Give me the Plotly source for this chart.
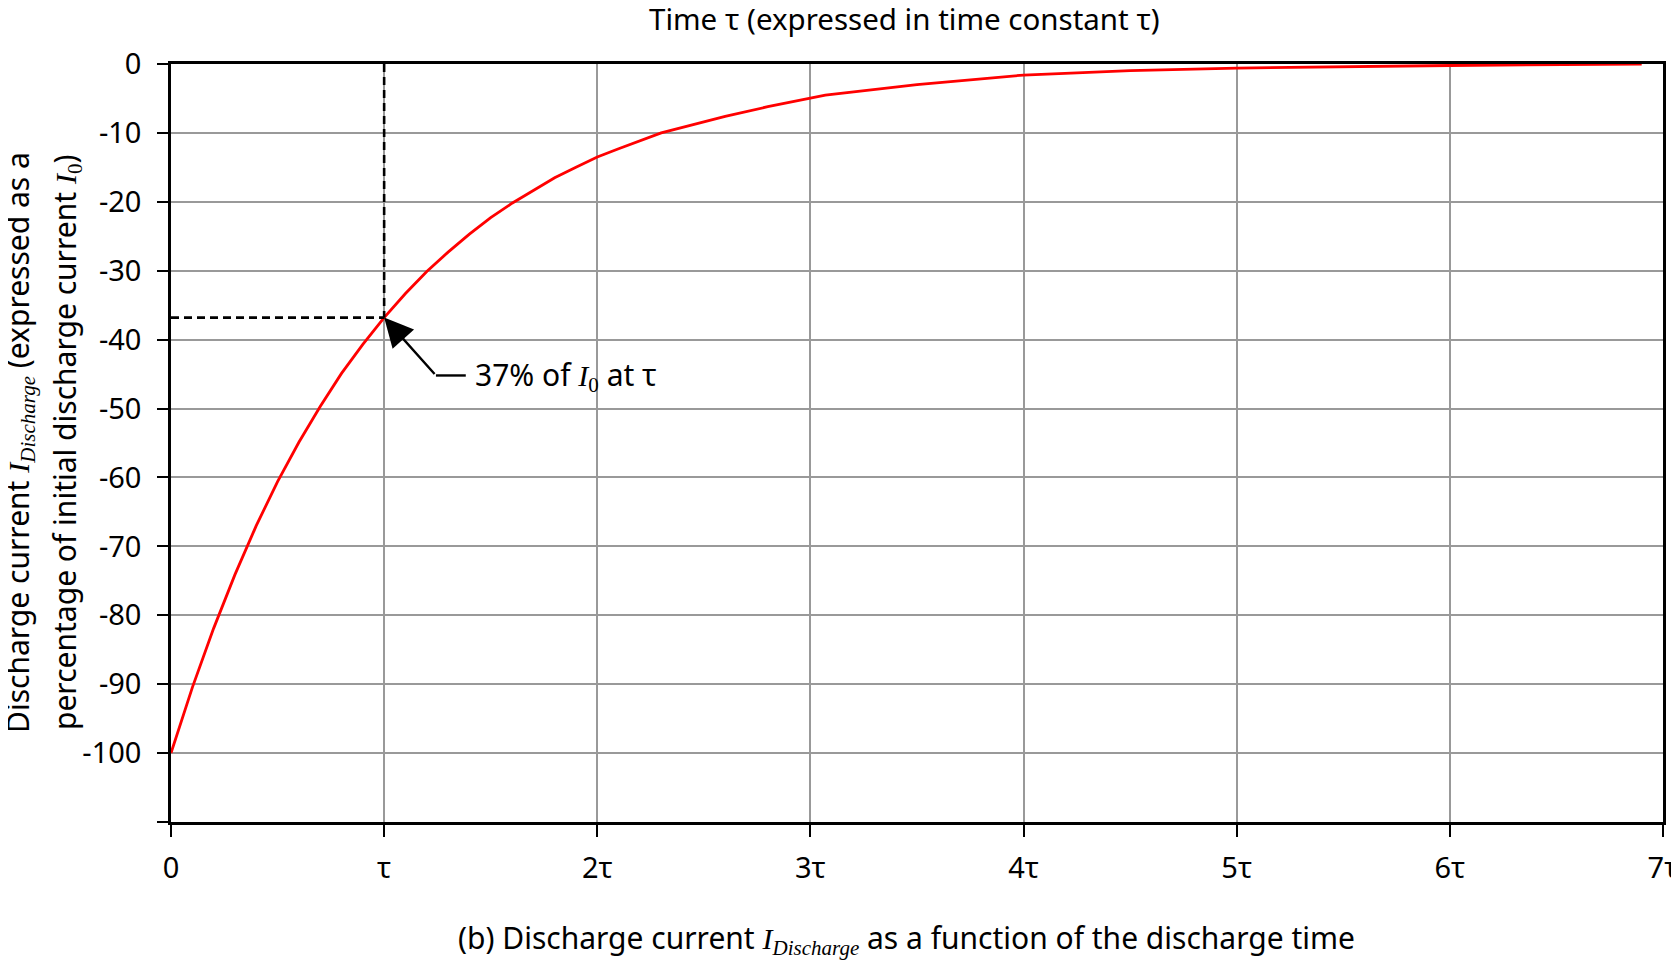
import plotly.graph_objects as go

# ---- data ----
time_tau = [0, 0.1, 0.2, 0.3, 0.4, 0.5, 0.6, 0.7, 0.8, 0.9, 1.0, 1.1, 1.2, 1.3, 1.4, 1.5, 1.6, 1.7,
            1.8, 1.9, 2.0, 2.1, 2.2, 2.3, 2.6, 2.8, 3.07, 3.5, 4.0, 4.5, 5.0, 5.5, 6.0, 6.9]
current_pct = [-100, -90.5, -81.9, -74.1, -67.0, -60.6, -54.9, -49.7, -44.9, -40.7, -36.8, -33.3,
               -30.1, -27.3, -24.7, -22.3, -20.2, -18.3, -16.5, -15.0, -13.5, -12.3, -11.1, -10.0,
               -7.6, -6.2, -4.5, -3.0, -1.6, -0.95, -0.6, -0.4, -0.22, 0]

x_tickvals = [0, 1, 2, 3, 4, 5, 6, 7]
x_ticktext = ["0", "τ", "2τ", "3τ", "4τ", "5τ", "6τ", "7τ"]
y_tickvals = [0, -10, -20, -30, -40, -50, -60, -70, -80, -90, -100, -110]
y_ticktext = ["0", "-10", "-20", "-30", "-40", "-50", "-60", "-70", "-80", "-90", "-100", ""]

marker_x = 1.0
marker_y = -36.8
elbow_x, elbow_y = 1.243, -45.2
line_end_x = 1.383
label_x = 1.415

FONT = "Noto Sans"
SERIF = "Liberation Serif"
FS = 29

fig = go.Figure()
fig.add_trace(go.Scatter(x=time_tau, y=current_pct, mode="lines",
                         line=dict(color="#ff0000", width=2.8),
                         showlegend=False, hoverinfo="skip"))

# dashed guide lines
fig.add_trace(go.Scatter(x=[marker_x, marker_x], y=[0, marker_y], mode="lines",
                         line=dict(color="black", width=2.6, dash="8px,5px"),
                         showlegend=False, hoverinfo="skip"))
fig.add_trace(go.Scatter(x=[0, marker_x], y=[marker_y, marker_y], mode="lines",
                         line=dict(color="black", width=2.6, dash="8px,5px"),
                         showlegend=False, hoverinfo="skip"))
# horizontal leader segment
fig.add_trace(go.Scatter(x=[elbow_x, line_end_x], y=[elbow_y, elbow_y], mode="lines",
                         line=dict(color="black", width=2.4),
                         showlegend=False, hoverinfo="skip"))

I_dis = f"<span style='font-family:{SERIF}'><i>I</i><sub><i>Discharge</i></sub></span>"
I_0 = f"<span style='font-family:{SERIF}'><i>I</i><sub>0</sub></span>"

annotations = [
    # arrow
    dict(x=marker_x, y=marker_y, xref="x", yref="y", ax=elbow_x, ay=elbow_y, axref="x", ayref="y",
         text="", showarrow=True, arrowhead=2, arrowsize=2.4, arrowwidth=2.4, arrowcolor="black",
         standoff=0),
    dict(x=label_x, y=elbow_y, xref="x", yref="y", text=f"37% of {I_0} at τ", showarrow=False,
         xanchor="left", yanchor="middle", font=dict(size=30, color="black", family=FONT)),
    dict(x=0.5, y=1, xref="paper", yref="paper", yshift=46, xshift=-13,
         text="Time τ (expressed in time constant τ)",
         showarrow=False, xanchor="center", yanchor="middle", font=dict(size=29.5, color="black", family=FONT)),
    dict(x=0.5, y=0, xref="paper", yref="paper", yshift=-116, xshift=-11,
         text=f"(b) Discharge current {I_dis} as a function of the discharge time",
         showarrow=False, xanchor="center", yanchor="middle", font=dict(size=30, color="black", family=FONT)),
    dict(x=0, y=0.5, xref="paper", yref="paper", xshift=-153,
         text=f"Discharge current {I_dis} (expressed as a", textangle=-90,
         showarrow=False, xanchor="center", yanchor="middle", font=dict(size=30, color="black", family=FONT)),
    dict(x=0, y=0.5, xref="paper", yref="paper", xshift=-106,
         text=f"percentage of initial discharge current {I_0})", textangle=-90,
         showarrow=False, xanchor="center", yanchor="middle", font=dict(size=30, color="black", family=FONT)),
]

fig.update_layout(
    width=1679, height=962,
    margin=dict(l=163, r=9, t=56, b=148),
    paper_bgcolor="white", plot_bgcolor="white",
    font=dict(family=FONT, size=FS, color="black"),
    annotations=annotations,
    showlegend=False,
)
fig.update_xaxes(range=[0, 7], tickvals=x_tickvals, ticktext=x_ticktext,
                 showgrid=True, gridcolor="#999999", gridwidth=2,
                 showline=True, linecolor="black", linewidth=2.5, mirror=True,
                 ticks="outside", ticklen=12, tickwidth=2, tickcolor="black",
                 ticklabelstandoff=6, ticklabeloverflow="allow", zeroline=False,
                 tickfont=dict(size=FS, family=FONT, color="black"))
fig.update_yaxes(range=[-110, 0], tickvals=y_tickvals, ticktext=y_ticktext,
                 showgrid=True, gridcolor="#999999", gridwidth=2,
                 showline=True, linecolor="black", linewidth=2.5, mirror=True,
                 ticks="outside", ticklen=11, tickwidth=2, tickcolor="black",
                 ticklabelstandoff=10, zeroline=False,
                 tickfont=dict(size=FS, family=FONT, color="black"))

fig.write_html("out.html")
